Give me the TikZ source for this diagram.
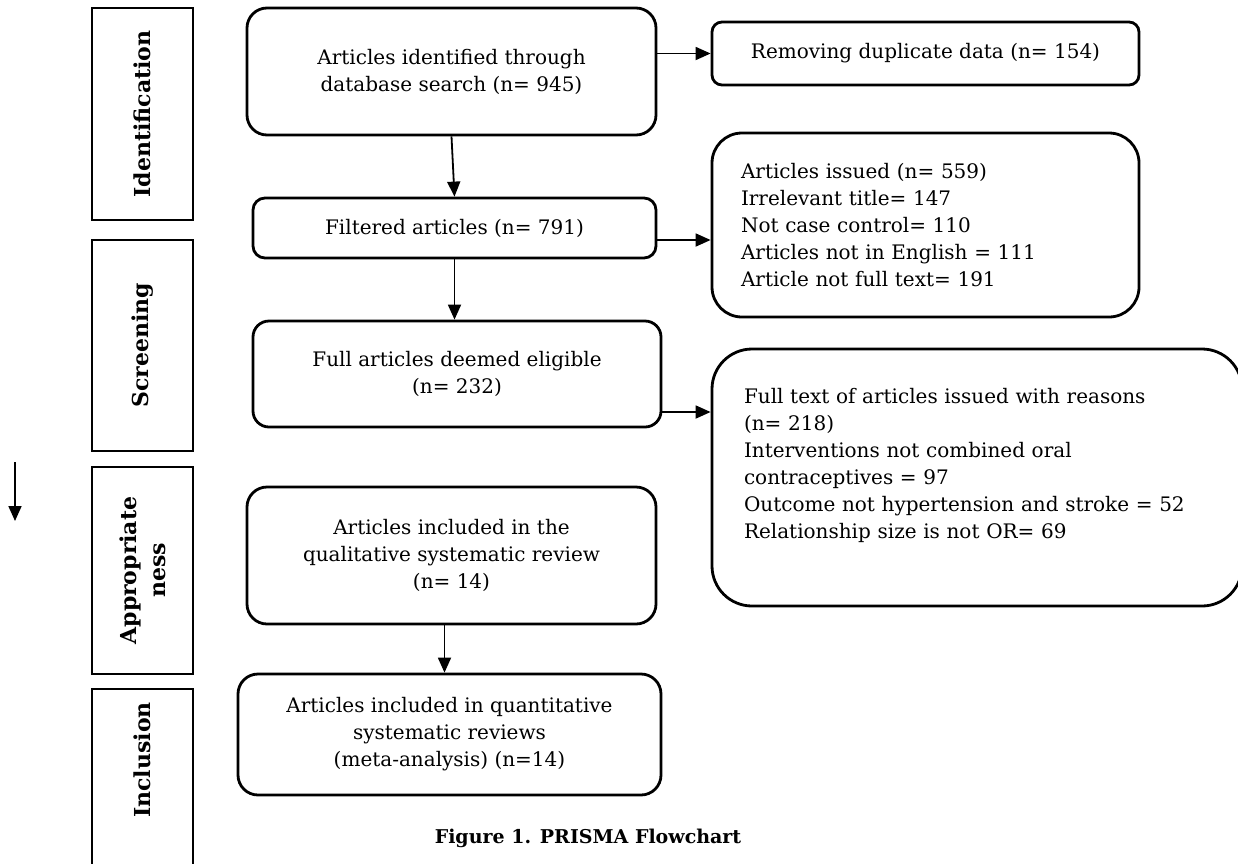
\documentclass[tikz,border=0pt]{standalone}
\usepackage{fontspec}
\setmainfont{DejaVu Serif}
\usetikzlibrary{arrows.meta,calc}
\begin{document}
\begin{tikzpicture}[x=1pt,y=-1pt,
  every node/.style={font=\fontsize{20}{27}\selectfont},
  mainbox/.style={draw, line width=2.8pt, rounded corners=#1, align=center, inner sep=0pt},
  sidebox/.style={draw, line width=1.4pt, inner sep=0pt},
  sidelabel/.style={rotate=90, font=\bfseries\fontsize{22}{29}\selectfont, align=center},
  arr/.style={line width=1.8pt, -{Triangle[length=15pt,width=13pt]}}]
\useasboundingbox (0,0) rectangle (1238,863);
\begin{scope}
\clip (0,0) rectangle (1238,863);
% side boxes
\node[sidebox, minimum width=101, minimum height=212] (s1) at (142.5,114) {};
\node[sidelabel] at (s1.center) {Identification};
\node[sidebox, minimum width=101, minimum height=211] (s2) at (142.5,345.5) {};
\node[sidelabel] at (s2.center) {Screening};
\node[sidebox, minimum width=101, minimum height=207] (s3) at (142.5,570.5) {};
\node[sidelabel] at (s3.center) {Appropriate\\ness};
\node[sidebox, minimum width=101, minimum height=190] (s4) at (142.5,784) {};
\node[sidelabel] at (142.5,760) {Inclusion};
% main boxes
\node[mainbox=20, minimum width=409, minimum height=127] (b1) at (451.5,71.5)
  {Articles identified through\\database search (n= 945)};
\node[mainbox=12, minimum width=403, minimum height=60] (b2) at (454.5,228)
  {Filtered articles (n= 791)};
\node[mainbox=16, minimum width=408, minimum height=106] (b3) at (457,374)
  {Full articles deemed eligible\\(n= 232)};
\node[mainbox=20, minimum width=409, minimum height=137] (b4) at (451.5,555.5)
  {Articles included in the\\qualitative systematic review\\(n= 14)};
\node[mainbox=20, minimum width=423, minimum height=121] (b5) at (449.5,734.5)
  {Articles included in quantitative\\systematic reviews\\(meta-analysis) (n=14)};
% right boxes
\node[mainbox=10, minimum width=427, minimum height=63] (r1) at (925.5,53.5)
  {Removing duplicate data (n= 154)};
\node[mainbox=30, text width=369, inner xsep=29, minimum height=184, align=left] (r2) at (925.5,225)
  {Articles issued (n= 559)\\Irrelevant title= 147\\Not case control= 110\\Articles not in English = 111\\Article not full text= 191};
\node[mainbox=40, text width=466, inner xsep=32, minimum height=257, align=left] (r3) at (977,477.5)
  {Full text of articles issued with reasons\\(n= 218)\\Interventions not combined oral\\contraceptives = 97\\Outcome not hypertension and stroke = 52\\Relationship size is not OR= 69\rule[-29pt]{0pt}{1pt}};
\end{scope}
% connectors
\coordinate (a2) at ($(b2.east)+(0,12)$);
\coordinate (a3) at ($(b3.east)+(0,38)$);
\coordinate (a4) at ($(b4.south)+(-7,0)$);
\draw[arr] (b1.east |- r1.west) -- (r1.west);
\draw[arr] (b1.south) -- (b2.north);
\draw[arr] (a2) -- (a2 -| r2.west);
\draw[arr] (b2.south) -- (b2.south |- b3.north);
\draw[arr] (a3) -- (a3 -| r3.west);
\draw[arr] (a4) -- (a4 |- b5.north);
\coordinate (lt) at (15,462);
\coordinate (lb) at (15,521);
\draw[arr] (lt) -- (lb);
% caption
\node[font=\bfseries\fontsize{19}{27}\selectfont] (cap) at (588,838) {Figure 1. PRISMA Flowchart};
\end{tikzpicture}
\end{document}
